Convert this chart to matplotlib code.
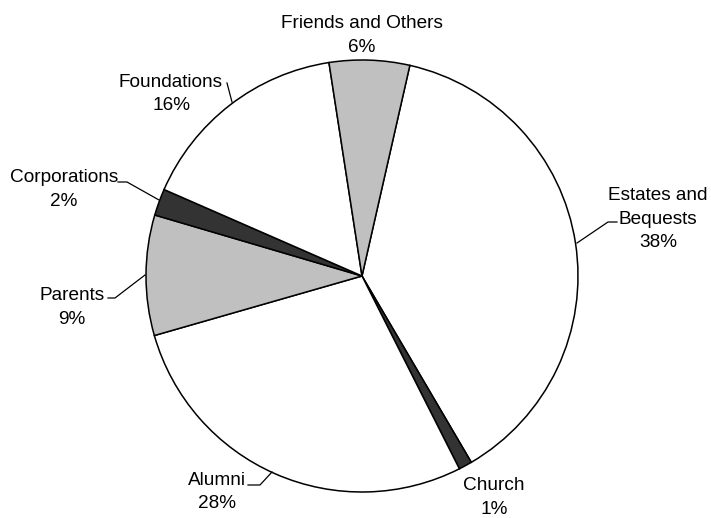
import matplotlib
matplotlib.use("Agg")
import matplotlib.pyplot as plt

plt.rcParams['font.family'] = ['Liberation Sans', 'DejaVu Sans']

categories = ["Estates and\nBequests", "Church", "Alumni", "Parents", "Corporations", "Foundations", "Friends and Others"]
values = [38, 1, 28, 9, 2, 16, 6]
colors = ["#FFFFFF", "#333333", "#FFFFFF", "#C0C0C0", "#333333", "#FFFFFF", "#C0C0C0"]

W, H = 711, 518
fig = plt.figure(figsize=(W / 100, H / 100), dpi=100)
ax = fig.add_axes([0, 0, 1, 1])

def Y(y):
    return H - y

cx, cy, r = 362, 276, 216
ax.pie(values, colors=colors, startangle=77.2, counterclock=False,
       center=(cx, Y(cy)), radius=r, frame=True,
       wedgeprops=dict(edgecolor='black', linewidth=1.1))
ax.set_xlim(0, W)
ax.set_ylim(0, H)
ax.set_aspect('equal')
ax.axis('off')

fs = 13.7
step = 23.5
# label anchor: (x center, baseline of first line) in pixel coords, top-left origin
label_pos = [(658, 200), (494, 490), (217, 485), (72, 300), (64, 182), (171, 87), (362, 28)]
pct = [f"{v}%" for v in values]
for cat, p, (x, y) in zip(categories, pct, label_pos):
    lines = cat.split("\n") + [p]
    for i, ln in enumerate(lines):
        ax.text(x, Y(y + i * step), ln, ha='center', va='baseline',
                fontsize=fs, color='black')

leaders = [
    [(617, 222), (608, 222), (577, 243)],
    [(248, 485), (260, 485), (272, 472)],
    [(108, 298), (115, 298), (145, 275)],
    [(118, 182), (127, 182), (159, 200)],
    [(227, 83), (232, 102)],
]
for pts in leaders:
    xs = [p[0] for p in pts]
    ys = [Y(p[1]) for p in pts]
    ax.plot(xs, ys, color='black', linewidth=0.9)

fig.savefig("out.png", dpi=100, facecolor='white')
